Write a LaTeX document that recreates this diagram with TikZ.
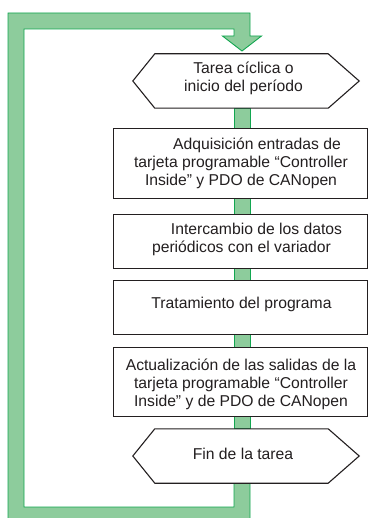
\documentclass[tikz,border=0pt]{standalone}
\usepackage{fontspec}
\setmainfont{Liberation Sans}
\definecolor{gfill}{HTML}{8DCC9C}
\definecolor{gline}{HTML}{12A650}
\definecolor{ink}{HTML}{231F20}
\begin{document}
\begin{tikzpicture}[x=1pt,y=-1pt,
  box/.style={draw=ink, line width=1.1pt, fill=white, minimum width=252.5pt, inner sep=0pt},
  hexnode/.style={inner sep=0pt, minimum width=226pt, minimum height=54pt},
  hexline/.style={draw=ink, line width=1.1pt, fill=white},
  stem/.style={fill=gfill, draw=gline, line width=0.9pt},
  txt/.style={font=\fontsize{15.7}{18}\selectfont, text=ink, align=center, inner sep=0pt, anchor=base}]
\useasboundingbox (0,0) rectangle (368,518);
\clip (0,0) rectangle (368,518);
\coordinate (sL) at (234,0);
\coordinate (sR) at (250,0);
% shape nodes
\node[hexnode] (h1) at (246,81) {};
\node[box, minimum height=69pt] (b1) at (240.25,163.5) {};
\node[box, minimum height=53pt] (b2) at (240.25,241.5) {};
\node[box, minimum height=53pt] (b3) at (240.25,307.5) {};
\node[box, minimum height=68pt] (b4) at (240.25,382) {};
\node[hexnode] (h2) at (246,456) {};
% loop
\draw[stem] (h2.south -| sL) -- (234,507) -- (24,507) -- (24,29) -- (234,29) -- (234,36)
  -- (222.5,36) -- (242,51) -- (261.5,36) -- (250,36) -- (250,13) -- (8,13) -- (8,530)
  -- (250,530) -- (h2.south -| sR) -- cycle;
% stems
\draw[stem] (h1.south -| sL) rectangle (b1.north -| sR);
\draw[stem] (b1.south -| sL) rectangle (b2.north -| sR);
\draw[stem] (b2.south -| sL) rectangle (b3.north -| sR);
\draw[stem] (b3.south -| sL) rectangle (b4.north -| sR);
\draw[stem] (b4.south -| sL) rectangle (h2.north -| sR);
% shapes redrawn on top
\foreach \b in {b1,b2,b3,b4}{\draw[draw=ink, line width=1.1pt, fill=white] (\b.north west) rectangle (\b.south east);}
\foreach \h in {h1,h2}{\draw[hexline] ([xshift=22pt]\h.north west) -- ([xshift=-31pt]\h.north east) -- (\h.east)
  -- ([xshift=-31pt]\h.south east) -- ([xshift=22pt]\h.south west) -- (\h.west) -- cycle;}
% texts (base anchor = baseline of last line)
\node[txt] (t1) at (243.5,92) {Tarea cíclica o\\inicio del período};
\node[txt] (t2) at (241,185.5) {\hspace*{32pt}Adquisición entradas de\\tarjeta programable “Controller\\Inside” y PDO de CANopen};
\node[txt] (t3) at (241.5,252.5) {\hspace*{30pt}Intercambio de los datos\\periódicos con el variador};
\node[txt] (t4) at (241.5,308) {Tratamiento del programa};
\node[txt] (t5) at (241,406) {Actualización de las salidas de la\\tarjeta programable “Controller\\Inside” y de PDO de CANopen};
\node[txt] (t6) at (243,459) {Fin de la tarea};
\end{tikzpicture}
\end{document}
